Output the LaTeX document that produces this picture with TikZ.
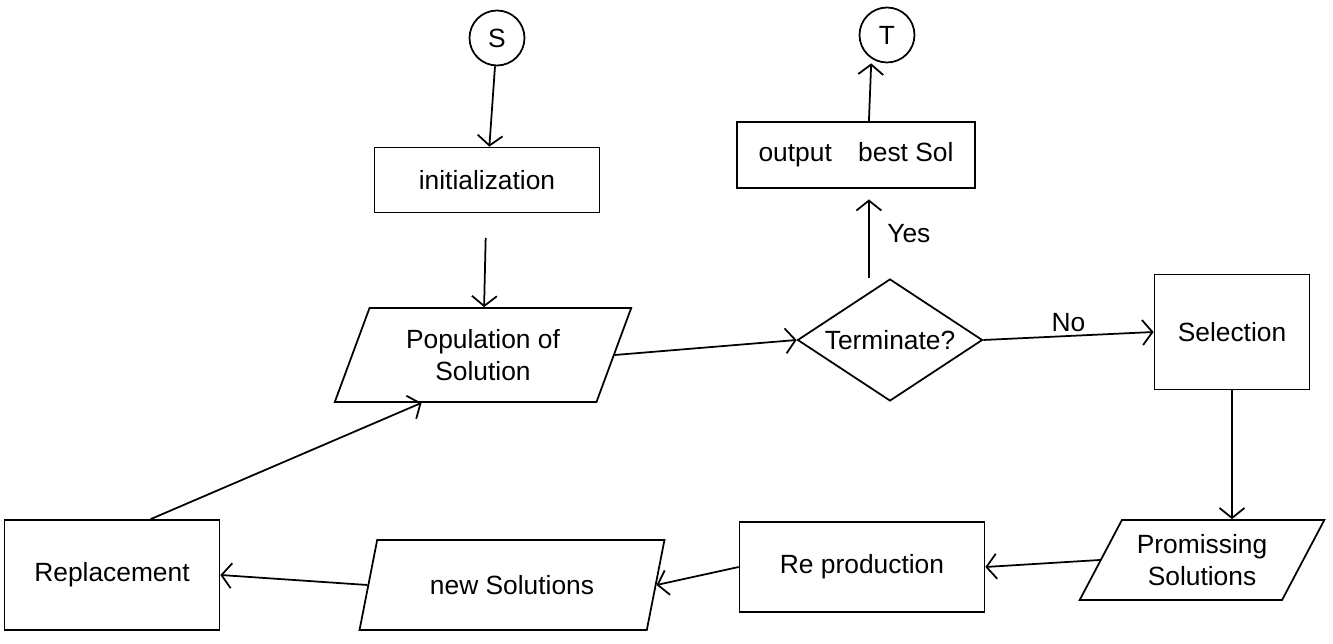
\documentclass[tikz,border=0pt]{standalone}
\usepackage{fontspec}
\setmainfont{Liberation Sans}
\usetikzlibrary{shapes.geometric,arrows.meta}
\begin{document}
\begin{tikzpicture}[x=0.02cm,y=-0.02cm,
  every node/.style={font=\fontsize{15}{18}\selectfont, line width=1pt, inner sep=2pt},
  box/.style={draw, rectangle, align=center},
  io/.style={draw, trapezium, trapezium left angle=#1, trapezium right angle=180-#1, trapezium stretches=true, align=center},
  dec/.style={draw, diamond, shape aspect=1.5, inner sep=0pt},
  term/.style={draw, circle, minimum size=1.1cm},
  flow/.style={line width=1pt, -{Straight Barb[length=2mm,width=5mm]}},
  lbl/.style={font=\fontsize{15}{18}\selectfont}
]
\useasboundingbox (0,0) rectangle (1333,644);

\node[term] (S) at (497,38) {S};
\node[term] (T) at (887,35) {T};
\node[box, minimum width=4.5cm, minimum height=1.3cm] (init) at (487,180) {initialization};
\node[box, minimum width=4.76cm, minimum height=1.32cm] (out) at (856,155) {output\quad best Sol};
\node[io=67, minimum width=5.94cm, minimum height=1.88cm] (pop) at (483,355) {Population of\\Solution};
\node[dec, minimum width=3.7cm, minimum height=2.44cm] (dec) at (890,340) {Terminate?};
\node[box, minimum width=3.1cm, minimum height=2.3cm] (sel) at (1232,332) {Selection};
\node[io=58, minimum width=4.9cm, minimum height=1.6cm] (prom) at (1202,560) {Promissing\\Solutions};
\node[box, minimum width=4.9cm, minimum height=1.8cm] (rep) at (862,567) {Re production};
\node[io=67, minimum width=6.1cm, minimum height=1.8cm] (new) at (512,585) {new Solutions};
\node[box, minimum width=4.3cm, minimum height=2.2cm] (repl) at (112,575) {Replacement};

\draw[flow] (S) -- (init);
\draw[flow, shorten <=14] (init) -- (pop);
\draw[flow] (pop.east) -- (dec.west);
\draw[flow, shorten >=6] ([xshift=-12]dec.north) -- node[lbl, right=8pt] {Yes} ([xshift=-12]dec.north |- out.south);
\draw[flow] ([xshift=-12]dec.north |- out.north) -- ([xshift=-9]T.south);
\draw[flow] (dec.east) -- node[lbl, above] {No} (sel.west);
\draw[flow] (sel.south) -- (sel.south |- prom.north);
\draw[flow] (prom.west) -- (rep.east);
\draw[flow] (rep.west) -- (new.east);
\draw[flow] (new.west) -- (repl.east);
\draw[flow] ([xshift=22]repl.north) -- ([xshift=-35]pop.south);
\end{tikzpicture}
\end{document}
